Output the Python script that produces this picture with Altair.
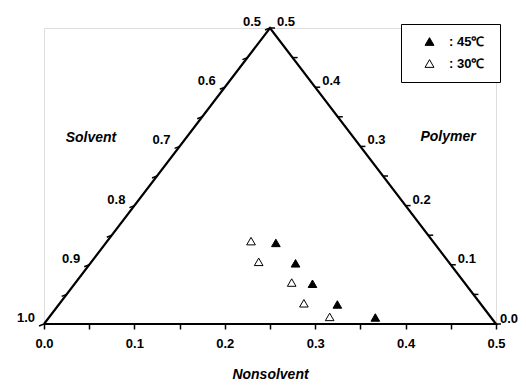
import altair as alt
import pandas as pd

# ---- data (compositions) ----
series_names = ["45℃", "30℃"]
nonsolvent_45 = [0.188, 0.227, 0.263, 0.308, 0.361]
polymer_45 = [0.137, 0.1025, 0.068, 0.033, 0.011]
nonsolvent_30 = [0.159, 0.185, 0.239, 0.270, 0.310]
polymer_30 = [0.140, 0.105, 0.070, 0.035, 0.012]

solvent_ticks = [0.5, 0.55, 0.6, 0.65, 0.7, 0.75, 0.8, 0.85, 0.9, 0.95, 1.0]
solvent_labels = [0.5, 0.6, 0.7, 0.8, 0.9, 1.0]
polymer_ticks = [0.0, 0.05, 0.1, 0.15, 0.2, 0.25, 0.3, 0.35, 0.4, 0.45, 0.5]
polymer_labels = [0.1, 0.2, 0.3, 0.4, 0.5]
polymer_corner_label = [0.0]
nonsolvent_ticks = [0.0, 0.05, 0.1, 0.15, 0.2, 0.25, 0.3, 0.35, 0.4, 0.45, 0.5]


# ternary -> cartesian: X = N + P/2, Y = P
def to_xy(n, p):
    return n + p / 2.0, p


rows = []
for name, ns, ps in [(series_names[0], nonsolvent_45, polymer_45),
                     (series_names[1], nonsolvent_30, polymer_30)]:
    for n, p in zip(ns, ps):
        x, y = to_xy(n, p)
        rows.append({"series": name, "X": x, "Y": y})
points_df = pd.DataFrame(rows)

# frame vertices: (S=1), (S=.5,P=.5), (S=.5,N=.5)
frame_df = pd.DataFrame([
    {"o": 0, "X": to_xy(0, 0)[0], "Y": to_xy(0, 0)[1]},
    {"o": 1, "X": to_xy(0, 0.5)[0], "Y": to_xy(0, 0.5)[1]},
    {"o": 2, "X": to_xy(0.5, 0)[0], "Y": to_xy(0.5, 0)[1]},
    {"o": 3, "X": to_xy(0, 0)[0], "Y": to_xy(0, 0)[1]},
])


def right_df(vals, with_text=False):
    out = []
    for p in vals:
        x, y = to_xy(0.5 - p, p)
        d = {"X": x, "Y": y}
        if with_text:
            d["t"] = f"{p:.1f}"
        out.append(d)
    return pd.DataFrame(out)


left_ticks_df = pd.DataFrame([{"X": to_xy(0, 1 - s)[0], "Y": to_xy(0, 1 - s)[1]} for s in solvent_ticks])
left_lab_df = pd.DataFrame([{"X": to_xy(0, 1 - s)[0], "Y": to_xy(0, 1 - s)[1], "t": f"{s:.1f}"} for s in solvent_labels])
right_ticks_df = right_df(polymer_ticks)
right_lab_df = right_df(polymer_labels, True)
right_corner_df = right_df(polymer_corner_label, True)

FONT = "Liberation Sans"
xscale = alt.Scale(domain=[0, 0.5], nice=False, zero=False)
yscale = alt.Scale(domain=[0, 0.5], nice=False, zero=False)

x_axis = alt.Axis(
    values=nonsolvent_ticks,
    labelExpr="(round(datum.value*20) % 2 == 0) ? format(datum.value, '.1f') : ''",
    domain=False, grid=False, tickSize=5, tickWidth=1.5, tickColor="black",
    labelFont=FONT, labelFontSize=13, labelFontWeight="bold", labelColor="black", labelPadding=8,
    labelFlush=False, labelOverlap=False,
    title="Nonsolvent", titleFont=FONT, titleFontSize=14, titleFontStyle="italic",
    titleFontWeight="bold", titleColor="black", titlePadding=17,
)

frame = alt.Chart(frame_df).mark_line(color="black", strokeWidth=2.2).encode(
    x=alt.X("X:Q", scale=xscale, axis=x_axis),
    y=alt.Y("Y:Q", scale=yscale, axis=None),
    order="o:Q",
)

left_ticks = alt.Chart(left_ticks_df).mark_rule(
    color="black", strokeWidth=1.5, x2Offset=-5, y2Offset=2
).encode(x="X:Q", y="Y:Q", x2="X:Q", y2="Y:Q")

right_ticks = alt.Chart(right_ticks_df).mark_rule(
    color="black", strokeWidth=1.5, x2Offset=5, y2Offset=0
).encode(x="X:Q", y="Y:Q", x2="X:Q", y2="Y:Q")

left_labels = alt.Chart(left_lab_df).mark_text(
    align="right", baseline="middle", dx=-9, dy=-6, font=FONT, fontSize=13,
    fontWeight="bold", color="black"
).encode(x="X:Q", y="Y:Q", text="t:N")

right_labels = alt.Chart(right_lab_df).mark_text(
    align="left", baseline="middle", dx=7, dy=-6, font=FONT, fontSize=13,
    fontWeight="bold", color="black"
).encode(x="X:Q", y="Y:Q", text="t:N")

right_corner = alt.Chart(right_corner_df).mark_text(
    align="left", baseline="middle", dx=4, dy=-5, font=FONT, fontSize=13,
    fontWeight="bold", color="black"
).encode(x="X:Q", y="Y:Q", text="t:N")

points = alt.Chart(points_df).mark_point(
    shape="triangle-up", filled=True, stroke="black", strokeWidth=1, size=75, opacity=1
).encode(
    x="X:Q", y="Y:Q",
    fill=alt.Fill("series:N", scale=alt.Scale(domain=series_names, range=["black", "white"]),
                  legend=alt.Legend(
                      title=None, orient="none", legendX=357, legendY=-4,
                      padding=11, strokeColor="black", fillColor="white",
                      symbolType="triangle-up", symbolSize=80, symbolOffset=11,
                      symbolStrokeColor="black", symbolStrokeWidth=1,
                      labelExpr="':  ' + datum.label + '\u00a0\u00a0\u00a0\u00a0\u00a0'",
                      labelFont=FONT, labelFontSize=13, labelFontWeight="bold",
                      labelColor="black", labelOffset=13, rowPadding=8,
                  )),
)

side_titles_solvent = alt.Chart(pd.DataFrame({"t": ["Solvent"]})).mark_text(
    font=FONT, fontSize=14, fontStyle="italic", fontWeight="bold", color="black"
).encode(text="t:N", x=alt.value(47), y=alt.value(110))

side_titles_polymer = alt.Chart(pd.DataFrame({"t": ["Polymer"]})).mark_text(
    font=FONT, fontSize=14, fontStyle="italic", fontWeight="bold", color="black"
).encode(text="t:N", x=alt.value(404), y=alt.value(109))

chart = alt.layer(
    frame, left_ticks, right_ticks, left_labels, right_labels, right_corner, points,
    side_titles_solvent, side_titles_polymer
).properties(
    width=452, height=296,
    autosize=alt.AutoSizeParams(type="none"),
    padding={"left": 36, "top": 20, "right": 22, "bottom": 56},
).configure_view(stroke=None).configure(background="white")

chart.save("out.html", embed_options={"renderer": "svg", "actions": False})
